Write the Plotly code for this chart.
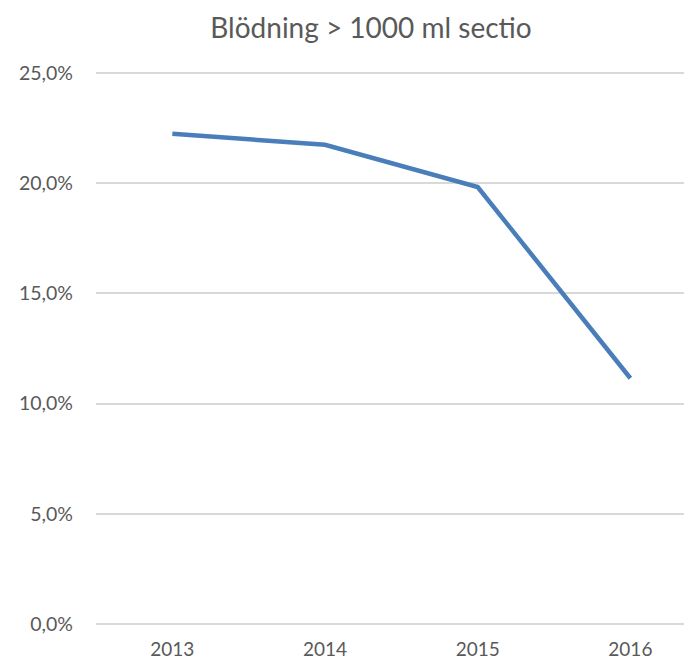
import plotly.graph_objects as go

years = ["2013", "2014", "2015", "2016"]
values = [0.2225, 0.2175, 0.1983, 0.1115]
y_tickvals = [0, 0.05, 0.10, 0.15, 0.20, 0.25]
y_ticktext = ["0,0%", "5,0%", "10,0%", "15,0%", "20,0%", "25,0%"]
title_text = "Blödning > 1000 ml sectio"

FONT = "Lato, 'Open Sans', sans-serif"
GREY = "#595959"

fig = go.Figure()
fig.add_trace(go.Scatter(
    x=years, y=values, mode="lines",
    line=dict(color="#4a7ebb", width=4.5),
    hoverinfo="skip",
))

fig.update_layout(
    width=692, height=661,
    paper_bgcolor="white", plot_bgcolor="white",
    margin=dict(l=88, r=0, t=63, b=43),
    showlegend=False,
    font=dict(family=FONT, color=GREY),
    title=dict(text=title_text, x=363/692, xref="container", xanchor="center",
               y=1 - 20/661, yref="container", yanchor="middle",
               font=dict(family=FONT, size=28, color=GREY)),
)
fig.update_xaxes(
    type="category", range=[-0.5, 3.456],
    showgrid=False, zeroline=False, showline=False,
    ticks="", tickfont=dict(size=19, color=GREY, family=FONT),
    ticklabelstandoff=10,
)
fig.update_yaxes(
    range=[-0.001, 0.251], tickvals=y_tickvals, ticktext=y_ticktext,
    showgrid=True, gridcolor="#d9d9d9", gridwidth=1.5,
    zeroline=False, showline=False, ticks="",
    tickfont=dict(size=19.5, color=GREY, family=FONT),
    ticklabelstandoff=22,
)

fig.write_html("out.html")
